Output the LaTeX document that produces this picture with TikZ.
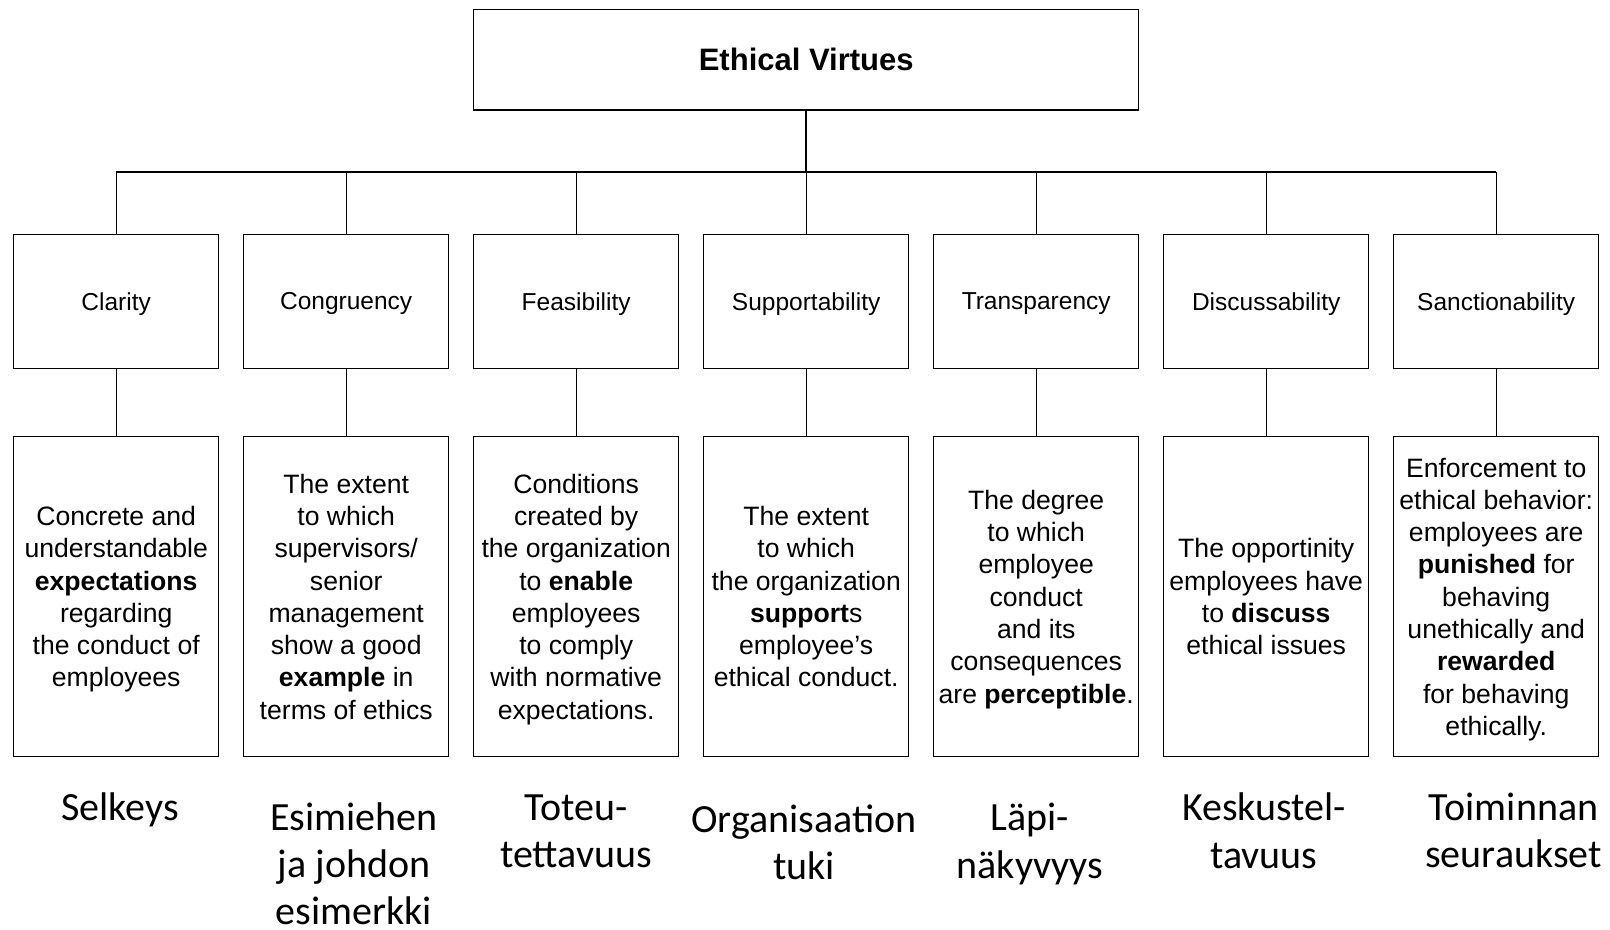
\documentclass[tikz,border=0pt]{standalone}
\usepackage{fontspec}
\setmainfont{Liberation Sans}
\newfontfamily\finfont{Carlito}
\usepackage{tikz}
\tikzset{
    topnode/.style = {rectangle, draw=black, line width=0.65pt, align=center, minimum width=332.4pt, minimum height=50.4pt, font=\fontsize{15.5}{18}\selectfont\bfseries},
    virtue/.style = {rectangle, draw=black, line width=0.65pt, align=center, minimum width=102.5pt, minimum height=67.2pt, inner sep=1pt, text depth=0pt, font=\fontsize{12.25}{15}\selectfont},
    descr/.style = {rectangle, draw=black, line width=0.65pt, align=center, minimum width=102.5pt, minimum height=160.2pt, inner sep=1pt, text depth=0pt, font=\fontsize{13.3}{16.15}\selectfont},
    finn/.style = {align=center, inner sep=0pt, font=\finfont\fontsize{20}{23.6}\selectfont},
}

\begin{document}
\begin{tikzpicture}[
	x=0.5pt,
	y=-0.5pt
]
\tikzset{
    edgen/.style = {-,line width=0.5pt,black},
    edgeb/.style = {-,line width=0.85pt,black}
}
\useasboundingbox (0,0) rectangle (1610,930);
\node[topnode] at (806.2,59.6) (top) {Ethical Virtues};
\coordinate (bar) at (806.2,171.7);
%
\node[virtue] at (116.2,301.4) (cl) {Clarity};
\node[virtue] at (346.2,301.4) (co) {Congruency};
\node[virtue] at (576.2,301.4) (fe) {Feasibility};
\node[virtue] at (806.2,301.4) (su) {Supportability};
\node[virtue] at (1036.2,301.4) (tr) {Transparency};
\node[virtue] at (1266.2,301.4) (di) {Discussability};
\node[virtue] at (1496.2,301.4) (sa) {Sanctionability};
%
\node[descr] at (116.2,596.6) (dcl) {Concrete and\\understandable\\\textbf{expectations}\\regarding\\the conduct of\\employees};
\node[descr] at (346.2,596.6) (dco) {The extent\\to which\\supervisors/\\senior\\management\\show a good\\\textbf{example} in\\terms of ethics};
\node[descr] at (576.2,596.6) (dfe) {Conditions\\created by\\the organization\\to \textbf{enable}\\employees\\to comply\\with normative\\expectations.};
\node[descr] at (806.2,596.6) (dsu) {The extent\\to which\\the organization\\\textbf{support}s\\employee’s\\ethical conduct.};
\node[descr] at (1036.2,596.6) (dtr) {The degree\\to which\\employee\\conduct\\and its\\consequences\\are \textbf{perceptible}.};
\node[descr] at (1266.2,596.6) (ddi) {The opportinity\\employees have\\to \textbf{discuss}\\ethical issues};
\node[descr] at (1496.2,596.6) (dsa) {Enforcement to\\ethical behavior:\\employees are\\\textbf{punished} for\\behaving\\unethically and\\\textbf{rewarded}\\for behaving\\ethically.};
%
\node[finn] at (120,810) (fcl) {Selkeys};
\node[finn] at (354,863.5) (fco) {Esimiehen\\ja johdon\\esimerkki};
\node[finn] at (576,831.7) (ffe) {Toteu-\\tettavuus};
\node[finn] at (804,842) (fsu) {Organisaation\\tuki};
\node[finn] at (1030,844) (ftr) {Läpi-\\näkyvyys};
\node[finn] at (1264,830.7) (fdi) {Keskustel-\\tavuus};
\node[finn] at (1513.5,830.7) (fsa) {Toiminnan\\seuraukset};
%
\draw[edgeb] (top) -- (bar);
\draw[edgeb] (cl.north |- bar) -- (sa.north |- bar);
\draw[edgen] (cl.north |- bar) -- (cl.north);
\draw[edgen] (co.north |- bar) -- (co.north);
\draw[edgen] (fe.north |- bar) -- (fe.north);
\draw[edgen] (su.north |- bar) -- (su.north);
\draw[edgen] (tr.north |- bar) -- (tr.north);
\draw[edgen] (di.north |- bar) -- (di.north);
\draw[edgen] (sa.north |- bar) -- (sa.north);
%
\draw[edgen] (cl) -- (dcl);
\draw[edgen] (co) -- (dco);
\draw[edgen] (fe) -- (dfe);
\draw[edgen] (su) -- (dsu);
\draw[edgen] (tr) -- (dtr);
\draw[edgen] (di) -- (ddi);
\draw[edgen] (sa) -- (dsa);
\end{tikzpicture}
\end{document}
